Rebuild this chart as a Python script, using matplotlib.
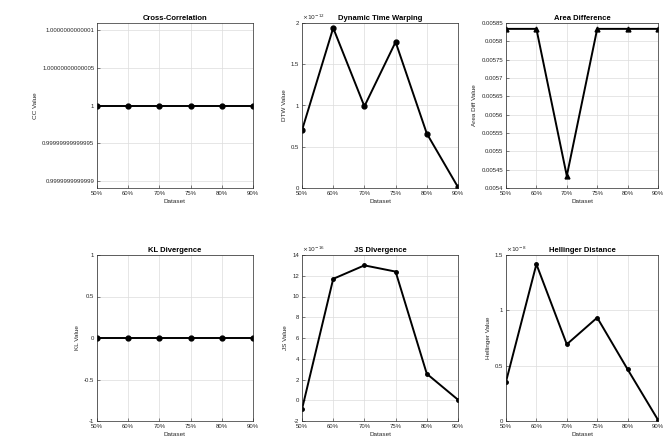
import matplotlib
matplotlib.use('Agg')
import matplotlib.pyplot as plt
import numpy as np

plt.rcParams['font.family'] = ['Liberation Sans', 'DejaVu Sans']

datasets = ['50%', '60%', '70%', '75%', '80%', '90%']

cc_vals = [1.0, 1.0, 1.0, 1.0, 1.0, 1.0]
dtw_vals = [0.70e-12, 1.94e-12, 0.99e-12, 1.77e-12, 0.66e-12, 0.01e-12]
area_vals = [0.005834, 0.005834, 0.005433, 0.005834, 0.005834, 0.005834]
kl_vals = [0.0, 0.0, 0.0, 0.0, 0.0, 0.0]
js_vals = [-0.86e-16, 11.7e-16, 13.0e-16, 12.4e-16, 2.55e-16, 0.05e-16]
hel_vals = [0.355e-8, 1.417e-8, 0.693e-8, 0.934e-8, 0.467e-8, 0.01e-8]

cc_ticks = [1 - 1e-13, 1 - 5e-14, 1.0, 1 + 5e-14, 1 + 1e-13]
cc_ticklabels = ['0.9999999999999', '0.99999999999995', '1', '1.00000000000005', '1.0000000000001']
area_ticks = [0.0054, 0.00545, 0.0055, 0.00555, 0.0056, 0.00565, 0.0057, 0.00575, 0.0058, 0.00585]

W, H = 665, 441
fig = plt.figure(figsize=(W / 100, H / 100), dpi=100)

# axes boxes in pixels (left, right, top, bottom)
cols = [(97, 253), (302, 458), (506, 658)]
rows = [(23, 188), (255, 421)]

def make_ax(r, c):
    x0, x1 = cols[c]
    y0, y1 = rows[r]
    return fig.add_axes([x0 / W, 1 - y1 / H, (x1 - x0) / W, (y1 - y0) / H])

def style(ax, title, ylabel):
    x = np.arange(len(datasets))
    ax.set_xlim(0, len(datasets) - 1)
    ax.set_xticks(x)
    ax.set_xticklabels(datasets)
    ax.set_title(title, fontsize=5.5, fontweight='bold', pad=2)
    ax.set_xlabel('Dataset', fontsize=4.6, labelpad=2, color='#262626')
    ax.set_ylabel(ylabel, fontsize=4.6, labelpad=3, color='#262626')
    ax.tick_params(labelsize=4.3, length=2, width=0.4, pad=2, colors='#262626', direction='in')
    ax.grid(True, color='#dcdcdc', linewidth=0.5)
    ax.set_axisbelow(True)
    for s in ax.spines.values():
        s.set_linewidth(0.5)
        s.set_color('#262626')

def scaled(ax, ticks, scale, exp):
    ax.set_yticks(ticks)
    ax.set_yticklabels(['%g' % round(t / scale, 6) for t in ticks])
    ax.text(0.0, 1.005, r'$\times10^{%d}$' % exp, transform=ax.transAxes,
            fontsize=4.3, color='#262626', ha='left', va='bottom')

x = np.arange(len(datasets))
lw = 1.4

ax = make_ax(0, 0)
ax.plot(x, cc_vals, 'k-o', lw=lw, ms=3.5)
style(ax, 'Cross-Correlation', 'CC Value')
ax.set_ylim(1 - 1.09e-13, 1 + 1.09e-13)
ax.set_yticks(cc_ticks)
ax.set_yticklabels(cc_ticklabels)

ax = make_ax(0, 1)
ax.plot(x, dtw_vals, 'k-o', lw=lw, ms=3.5)
style(ax, 'Dynamic Time Warping', 'DTW Value')
ax.set_ylim(0, 2e-12)
scaled(ax, [0, 0.5e-12, 1e-12, 1.5e-12, 2e-12], 1e-12, -12)

ax = make_ax(0, 2)
ax.plot(x, area_vals, 'k-^', lw=lw, ms=3.5)
style(ax, 'Area Difference', 'Area Diff Value')
ax.set_ylim(0.0054, 0.00585)
ax.set_yticks(area_ticks)
ax.set_yticklabels(['%g' % t for t in area_ticks])

ax = make_ax(1, 0)
ax.plot(x, kl_vals, 'k-o', lw=lw, ms=3.5)
style(ax, 'KL Divergence', 'KL Value')
ax.set_ylim(-1, 1)
ax.set_yticks([-1, -0.5, 0, 0.5, 1])
ax.set_yticklabels(['-1', '-0.5', '0', '0.5', '1'])

ax = make_ax(1, 1)
ax.plot(x, js_vals, 'k-o', lw=lw, ms=2.5)
style(ax, 'JS Divergence', 'JS Value')
ax.set_ylim(-2e-16, 14e-16)
scaled(ax, [i * 1e-16 for i in range(-2, 15, 2)], 1e-16, -16)

ax = make_ax(1, 2)
ax.plot(x, hel_vals, 'k-o', lw=lw, ms=2.5)
style(ax, 'Hellinger Distance', 'Hellinger Value')
ax.set_ylim(0, 1.5e-8)
scaled(ax, [0, 0.5e-8, 1e-8, 1.5e-8], 1e-8, -8)

fig.savefig('out.png', dpi=100)
